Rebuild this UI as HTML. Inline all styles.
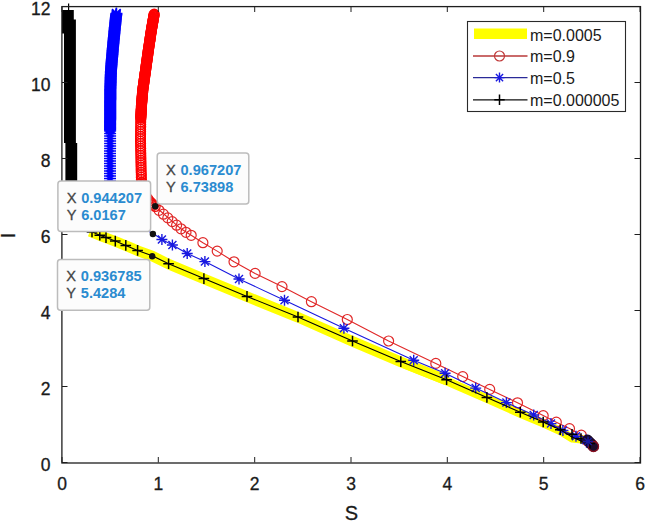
<!DOCTYPE html>
<html><head><meta charset="utf-8"><style>
html,body{margin:0;padding:0;background:#fff;}
svg{display:block;}
text{font-family:"Liberation Sans",sans-serif;}
.tl{font-size:17.5px;fill:#1a1a1a;stroke:#1a1a1a;stroke-width:0.3px;}
.al{font-size:20px;fill:#1a1a1a;stroke:#1a1a1a;stroke-width:0.3px;}
.dl{font-size:14.6px;fill:#444;stroke:#444;stroke-width:0.3px;}
.dv{font-size:14.6px;font-weight:bold;fill:#2a8bd0;}
.lg{font-size:16px;fill:#1a1a1a;}
</style></head><body>
<svg width="646" height="521" viewBox="0 0 646 521">
<rect width="646" height="521" fill="#fff"/>
<defs><clipPath id="cp"><rect x="62.0" y="3.5" width="578.0" height="459.0"/></clipPath></defs>
<g clip-path="url(#cp)">
<polyline points="446.6,380.1 400.8,361.9 352.5,341.3 298.0,317.3 247.0,296.7 203.9,278.9 168.6,264.1 152.2,256.0 137.6,250.7 125.8,245.7 115.3,241.4 106.0,237.9 99.8,235.5 90.0,231.3" fill="none" stroke="#ffff00" stroke-width="10.5" stroke-linejoin="round"/>
<polyline points="584.0,439.5 572.0,438.2 560.3,431.0 543.2,423.2 520.3,413.5 486.9,398.6 446.6,381.0 400.8,362.8" fill="none" stroke="#ffff00" stroke-width="8.5" stroke-linejoin="round"/>
<polyline points="593.5,446.5 581.3,435.2 569.5,428.6 556.3,422.2 543.2,415.6 517.5,402.8 489.7,389.4 462.7,376.6 435.8,363.4 388.6,341.0 347.3,319.5 311.4,301.7 282.0,286.6 255.1,273.4 234.0,261.8 217.2,251.1 202.9,242.7 191.2,235.3 181.0,228.8 155.2,206.5 149.5,201.5 144.5,194.0 141.5,182.0 141.1,170.0 140.5,140.0 140.8,118.0 141.5,105.0 142.8,90.0 145.6,70.0 148.4,50.0 151.4,30.0 154.2,14.0" fill="none" stroke="#e02828" stroke-width="1.1" stroke-linejoin="round"/>
<circle cx="581.3" cy="435.2" r="5.0" fill="none" stroke="#e02828" stroke-width="1.2"/>
<circle cx="569.5" cy="428.6" r="5.0" fill="none" stroke="#e02828" stroke-width="1.2"/>
<circle cx="556.3" cy="422.2" r="5.0" fill="none" stroke="#e02828" stroke-width="1.2"/>
<circle cx="543.2" cy="415.6" r="5.0" fill="none" stroke="#e02828" stroke-width="1.2"/>
<circle cx="517.5" cy="402.8" r="5.0" fill="none" stroke="#e02828" stroke-width="1.2"/>
<circle cx="489.7" cy="389.4" r="5.0" fill="none" stroke="#e02828" stroke-width="1.2"/>
<circle cx="462.7" cy="376.6" r="5.0" fill="none" stroke="#e02828" stroke-width="1.2"/>
<circle cx="435.8" cy="363.4" r="5.0" fill="none" stroke="#e02828" stroke-width="1.2"/>
<circle cx="388.6" cy="341.0" r="5.0" fill="none" stroke="#e02828" stroke-width="1.2"/>
<circle cx="347.3" cy="319.5" r="5.0" fill="none" stroke="#e02828" stroke-width="1.2"/>
<circle cx="311.4" cy="301.7" r="5.0" fill="none" stroke="#e02828" stroke-width="1.2"/>
<circle cx="282.0" cy="286.6" r="5.0" fill="none" stroke="#e02828" stroke-width="1.2"/>
<circle cx="255.1" cy="273.4" r="5.0" fill="none" stroke="#e02828" stroke-width="1.2"/>
<circle cx="234.0" cy="261.8" r="5.0" fill="none" stroke="#e02828" stroke-width="1.2"/>
<circle cx="217.2" cy="251.1" r="5.0" fill="none" stroke="#e02828" stroke-width="1.2"/>
<circle cx="202.9" cy="242.7" r="5.0" fill="none" stroke="#e02828" stroke-width="1.2"/>
<circle cx="191.2" cy="235.3" r="5.0" fill="none" stroke="#e02828" stroke-width="1.2"/>
<circle cx="186.0" cy="232.3" r="5.0" fill="none" stroke="#e02828" stroke-width="1.2"/>
<circle cx="181.0" cy="228.8" r="5.0" fill="none" stroke="#e02828" stroke-width="1.2"/>
<circle cx="176.6" cy="225.2" r="5.0" fill="none" stroke="#e02828" stroke-width="1.2"/>
<circle cx="172.2" cy="221.6" r="5.0" fill="none" stroke="#e02828" stroke-width="1.2"/>
<circle cx="167.8" cy="217.9" r="5.0" fill="none" stroke="#e02828" stroke-width="1.2"/>
<circle cx="163.4" cy="214.2" r="5.0" fill="none" stroke="#e02828" stroke-width="1.2"/>
<circle cx="159.0" cy="210.3" r="5.0" fill="none" stroke="#e02828" stroke-width="1.2"/>
<circle cx="587.0" cy="440.5" r="5.0" fill="none" stroke="#e02828" stroke-width="1.2"/>
<circle cx="590.0" cy="443.0" r="5.0" fill="none" stroke="#e02828" stroke-width="1.2"/>
<circle cx="592.0" cy="444.5" r="5.0" fill="none" stroke="#e02828" stroke-width="1.2"/>
<circle cx="155.2" cy="206.5" r="4.9" fill="none" stroke="#ee1010" stroke-width="1.3"/>
<circle cx="153.7" cy="205.2" r="4.9" fill="none" stroke="#ee1010" stroke-width="1.3"/>
<circle cx="152.2" cy="203.9" r="4.9" fill="none" stroke="#ee1010" stroke-width="1.3"/>
<circle cx="150.7" cy="202.5" r="4.9" fill="none" stroke="#ee1010" stroke-width="1.3"/>
<circle cx="149.3" cy="201.2" r="4.9" fill="none" stroke="#ee1010" stroke-width="1.3"/>
<circle cx="148.2" cy="199.5" r="4.9" fill="none" stroke="#ee1010" stroke-width="1.3"/>
<circle cx="147.0" cy="197.8" r="4.9" fill="none" stroke="#ee1010" stroke-width="1.3"/>
<circle cx="145.9" cy="196.2" r="4.9" fill="none" stroke="#ee1010" stroke-width="1.3"/>
<circle cx="144.8" cy="194.5" r="4.9" fill="none" stroke="#ee1010" stroke-width="1.3"/>
<circle cx="144.2" cy="192.6" r="4.9" fill="none" stroke="#ee1010" stroke-width="1.3"/>
<circle cx="143.7" cy="190.7" r="4.9" fill="none" stroke="#ee1010" stroke-width="1.3"/>
<circle cx="143.2" cy="188.8" r="4.9" fill="none" stroke="#ee1010" stroke-width="1.3"/>
<circle cx="142.7" cy="186.8" r="4.9" fill="none" stroke="#ee1010" stroke-width="1.3"/>
<circle cx="142.2" cy="184.9" r="4.9" fill="none" stroke="#ee1010" stroke-width="1.3"/>
<circle cx="141.7" cy="182.9" r="4.9" fill="none" stroke="#ee1010" stroke-width="1.3"/>
<circle cx="141.5" cy="182.0" r="4.9" fill="none" stroke="#ff0000" stroke-width="1.3"/>
<circle cx="141.4" cy="179.6" r="4.9" fill="none" stroke="#ff0000" stroke-width="1.3"/>
<circle cx="141.3" cy="177.2" r="4.9" fill="none" stroke="#ff0000" stroke-width="1.3"/>
<circle cx="141.3" cy="174.8" r="4.9" fill="none" stroke="#ff0000" stroke-width="1.3"/>
<circle cx="141.2" cy="172.4" r="4.9" fill="none" stroke="#ff0000" stroke-width="1.3"/>
<circle cx="141.1" cy="170.0" r="4.9" fill="none" stroke="#ff0000" stroke-width="1.3"/>
<circle cx="141.1" cy="167.6" r="4.9" fill="none" stroke="#ff0000" stroke-width="1.3"/>
<circle cx="141.0" cy="165.2" r="4.9" fill="none" stroke="#ff0000" stroke-width="1.3"/>
<circle cx="141.0" cy="162.8" r="4.9" fill="none" stroke="#ff0000" stroke-width="1.3"/>
<circle cx="140.9" cy="160.4" r="4.9" fill="none" stroke="#ff0000" stroke-width="1.3"/>
<circle cx="140.9" cy="158.0" r="4.9" fill="none" stroke="#ff0000" stroke-width="1.3"/>
<circle cx="140.8" cy="155.6" r="4.9" fill="none" stroke="#ff0000" stroke-width="1.3"/>
<circle cx="140.8" cy="153.2" r="4.9" fill="none" stroke="#ff0000" stroke-width="1.3"/>
<circle cx="140.7" cy="150.8" r="4.9" fill="none" stroke="#ff0000" stroke-width="1.3"/>
<circle cx="140.7" cy="148.4" r="4.9" fill="none" stroke="#ff0000" stroke-width="1.3"/>
<circle cx="140.6" cy="146.0" r="4.9" fill="none" stroke="#ff0000" stroke-width="1.3"/>
<circle cx="140.6" cy="143.6" r="4.9" fill="none" stroke="#ff0000" stroke-width="1.3"/>
<circle cx="140.5" cy="141.2" r="4.9" fill="none" stroke="#ff0000" stroke-width="1.3"/>
<circle cx="140.5" cy="138.8" r="4.9" fill="none" stroke="#ff0000" stroke-width="1.3"/>
<circle cx="140.5" cy="136.4" r="4.9" fill="none" stroke="#ff0000" stroke-width="1.3"/>
<circle cx="140.6" cy="134.0" r="4.9" fill="none" stroke="#ff0000" stroke-width="1.3"/>
<circle cx="140.6" cy="131.6" r="4.9" fill="none" stroke="#ff0000" stroke-width="1.3"/>
<circle cx="140.6" cy="129.2" r="4.9" fill="none" stroke="#ff0000" stroke-width="1.3"/>
<circle cx="140.7" cy="126.8" r="4.9" fill="none" stroke="#ff0000" stroke-width="1.3"/>
<circle cx="140.7" cy="124.4" r="4.9" fill="none" stroke="#ff0000" stroke-width="1.3"/>
<circle cx="140.7" cy="122.0" r="4.9" fill="none" stroke="#ff0000" stroke-width="1.3"/>
<circle cx="140.8" cy="119.6" r="4.9" fill="none" stroke="#ff0000" stroke-width="1.3"/>
<circle cx="140.8" cy="118.0" r="4.8" fill="none" stroke="#ff0000" stroke-width="1.6"/>
<circle cx="140.8" cy="117.2" r="4.8" fill="none" stroke="#ff0000" stroke-width="1.6"/>
<circle cx="140.9" cy="116.4" r="4.8" fill="none" stroke="#ff0000" stroke-width="1.6"/>
<circle cx="140.9" cy="115.6" r="4.8" fill="none" stroke="#ff0000" stroke-width="1.6"/>
<circle cx="141.0" cy="114.8" r="4.8" fill="none" stroke="#ff0000" stroke-width="1.6"/>
<circle cx="141.0" cy="114.0" r="4.8" fill="none" stroke="#ff0000" stroke-width="1.6"/>
<circle cx="141.1" cy="113.2" r="4.8" fill="none" stroke="#ff0000" stroke-width="1.6"/>
<circle cx="141.1" cy="112.4" r="4.8" fill="none" stroke="#ff0000" stroke-width="1.6"/>
<circle cx="141.1" cy="111.6" r="4.8" fill="none" stroke="#ff0000" stroke-width="1.6"/>
<circle cx="141.2" cy="110.8" r="4.8" fill="none" stroke="#ff0000" stroke-width="1.6"/>
<circle cx="141.2" cy="110.0" r="4.8" fill="none" stroke="#ff0000" stroke-width="1.6"/>
<circle cx="141.3" cy="109.2" r="4.8" fill="none" stroke="#ff0000" stroke-width="1.6"/>
<circle cx="141.3" cy="108.4" r="4.8" fill="none" stroke="#ff0000" stroke-width="1.6"/>
<circle cx="141.4" cy="107.6" r="4.8" fill="none" stroke="#ff0000" stroke-width="1.6"/>
<circle cx="141.4" cy="106.8" r="4.8" fill="none" stroke="#ff0000" stroke-width="1.6"/>
<circle cx="141.4" cy="106.0" r="4.8" fill="none" stroke="#ff0000" stroke-width="1.6"/>
<circle cx="141.5" cy="105.2" r="4.8" fill="none" stroke="#ff0000" stroke-width="1.6"/>
<circle cx="141.6" cy="104.4" r="4.8" fill="none" stroke="#ff0000" stroke-width="1.6"/>
<circle cx="141.6" cy="103.6" r="4.8" fill="none" stroke="#ff0000" stroke-width="1.6"/>
<circle cx="141.7" cy="102.8" r="4.8" fill="none" stroke="#ff0000" stroke-width="1.6"/>
<circle cx="141.8" cy="102.0" r="4.8" fill="none" stroke="#ff0000" stroke-width="1.6"/>
<circle cx="141.8" cy="101.2" r="4.8" fill="none" stroke="#ff0000" stroke-width="1.6"/>
<circle cx="141.9" cy="100.4" r="4.8" fill="none" stroke="#ff0000" stroke-width="1.6"/>
<circle cx="142.0" cy="99.6" r="4.8" fill="none" stroke="#ff0000" stroke-width="1.6"/>
<circle cx="142.0" cy="98.8" r="4.8" fill="none" stroke="#ff0000" stroke-width="1.6"/>
<circle cx="142.1" cy="98.0" r="4.8" fill="none" stroke="#ff0000" stroke-width="1.6"/>
<circle cx="142.2" cy="97.2" r="4.8" fill="none" stroke="#ff0000" stroke-width="1.6"/>
<circle cx="142.2" cy="96.5" r="4.8" fill="none" stroke="#ff0000" stroke-width="1.6"/>
<circle cx="142.3" cy="95.7" r="4.8" fill="none" stroke="#ff0000" stroke-width="1.6"/>
<circle cx="142.4" cy="94.9" r="4.8" fill="none" stroke="#ff0000" stroke-width="1.6"/>
<circle cx="142.4" cy="94.1" r="4.8" fill="none" stroke="#ff0000" stroke-width="1.6"/>
<circle cx="142.5" cy="93.3" r="4.8" fill="none" stroke="#ff0000" stroke-width="1.6"/>
<circle cx="142.6" cy="92.5" r="4.8" fill="none" stroke="#ff0000" stroke-width="1.6"/>
<circle cx="142.7" cy="91.7" r="4.8" fill="none" stroke="#ff0000" stroke-width="1.6"/>
<circle cx="142.7" cy="90.9" r="4.8" fill="none" stroke="#ff0000" stroke-width="1.6"/>
<circle cx="142.8" cy="90.1" r="4.8" fill="none" stroke="#ff0000" stroke-width="1.6"/>
<circle cx="142.9" cy="89.3" r="4.8" fill="none" stroke="#ff0000" stroke-width="1.6"/>
<circle cx="143.0" cy="88.5" r="4.8" fill="none" stroke="#ff0000" stroke-width="1.6"/>
<circle cx="143.1" cy="87.7" r="4.8" fill="none" stroke="#ff0000" stroke-width="1.6"/>
<circle cx="143.2" cy="86.9" r="4.8" fill="none" stroke="#ff0000" stroke-width="1.6"/>
<circle cx="143.3" cy="86.1" r="4.8" fill="none" stroke="#ff0000" stroke-width="1.6"/>
<circle cx="143.5" cy="85.3" r="4.8" fill="none" stroke="#ff0000" stroke-width="1.6"/>
<circle cx="143.6" cy="84.5" r="4.8" fill="none" stroke="#ff0000" stroke-width="1.6"/>
<circle cx="143.7" cy="83.7" r="4.8" fill="none" stroke="#ff0000" stroke-width="1.6"/>
<circle cx="143.8" cy="82.9" r="4.8" fill="none" stroke="#ff0000" stroke-width="1.6"/>
<circle cx="143.9" cy="82.2" r="4.8" fill="none" stroke="#ff0000" stroke-width="1.6"/>
<circle cx="144.0" cy="81.4" r="4.8" fill="none" stroke="#ff0000" stroke-width="1.6"/>
<circle cx="144.1" cy="80.6" r="4.8" fill="none" stroke="#ff0000" stroke-width="1.6"/>
<circle cx="144.2" cy="79.8" r="4.8" fill="none" stroke="#ff0000" stroke-width="1.6"/>
<circle cx="144.3" cy="79.0" r="4.8" fill="none" stroke="#ff0000" stroke-width="1.6"/>
<circle cx="144.5" cy="78.2" r="4.8" fill="none" stroke="#ff0000" stroke-width="1.6"/>
<circle cx="144.6" cy="77.4" r="4.8" fill="none" stroke="#ff0000" stroke-width="1.6"/>
<circle cx="144.7" cy="76.6" r="4.8" fill="none" stroke="#ff0000" stroke-width="1.6"/>
<circle cx="144.8" cy="75.8" r="4.8" fill="none" stroke="#ff0000" stroke-width="1.6"/>
<circle cx="144.9" cy="75.0" r="4.8" fill="none" stroke="#ff0000" stroke-width="1.6"/>
<circle cx="145.0" cy="74.2" r="4.8" fill="none" stroke="#ff0000" stroke-width="1.6"/>
<circle cx="145.1" cy="73.4" r="4.8" fill="none" stroke="#ff0000" stroke-width="1.6"/>
<circle cx="145.2" cy="72.6" r="4.8" fill="none" stroke="#ff0000" stroke-width="1.6"/>
<circle cx="145.3" cy="71.9" r="4.8" fill="none" stroke="#ff0000" stroke-width="1.6"/>
<circle cx="145.5" cy="71.1" r="4.8" fill="none" stroke="#ff0000" stroke-width="1.6"/>
<circle cx="145.6" cy="70.3" r="4.8" fill="none" stroke="#ff0000" stroke-width="1.6"/>
<circle cx="145.7" cy="69.5" r="4.8" fill="none" stroke="#ff0000" stroke-width="1.6"/>
<circle cx="145.8" cy="68.7" r="4.8" fill="none" stroke="#ff0000" stroke-width="1.6"/>
<circle cx="145.9" cy="67.9" r="4.8" fill="none" stroke="#ff0000" stroke-width="1.6"/>
<circle cx="146.0" cy="67.1" r="4.8" fill="none" stroke="#ff0000" stroke-width="1.6"/>
<circle cx="146.1" cy="66.3" r="4.8" fill="none" stroke="#ff0000" stroke-width="1.6"/>
<circle cx="146.2" cy="65.5" r="4.8" fill="none" stroke="#ff0000" stroke-width="1.6"/>
<circle cx="146.3" cy="64.7" r="4.8" fill="none" stroke="#ff0000" stroke-width="1.6"/>
<circle cx="146.4" cy="63.9" r="4.8" fill="none" stroke="#ff0000" stroke-width="1.6"/>
<circle cx="146.6" cy="63.1" r="4.8" fill="none" stroke="#ff0000" stroke-width="1.6"/>
<circle cx="146.7" cy="62.3" r="4.8" fill="none" stroke="#ff0000" stroke-width="1.6"/>
<circle cx="146.8" cy="61.6" r="4.8" fill="none" stroke="#ff0000" stroke-width="1.6"/>
<circle cx="146.9" cy="60.8" r="4.8" fill="none" stroke="#ff0000" stroke-width="1.6"/>
<circle cx="147.0" cy="60.0" r="4.8" fill="none" stroke="#ff0000" stroke-width="1.6"/>
<circle cx="147.1" cy="59.2" r="4.8" fill="none" stroke="#ff0000" stroke-width="1.6"/>
<circle cx="147.2" cy="58.4" r="4.8" fill="none" stroke="#ff0000" stroke-width="1.6"/>
<circle cx="147.3" cy="57.6" r="4.8" fill="none" stroke="#ff0000" stroke-width="1.6"/>
<circle cx="147.4" cy="56.8" r="4.8" fill="none" stroke="#ff0000" stroke-width="1.6"/>
<circle cx="147.6" cy="56.0" r="4.8" fill="none" stroke="#ff0000" stroke-width="1.6"/>
<circle cx="147.7" cy="55.2" r="4.8" fill="none" stroke="#ff0000" stroke-width="1.6"/>
<circle cx="147.8" cy="54.4" r="4.8" fill="none" stroke="#ff0000" stroke-width="1.6"/>
<circle cx="147.9" cy="53.6" r="4.8" fill="none" stroke="#ff0000" stroke-width="1.6"/>
<circle cx="148.0" cy="52.8" r="4.8" fill="none" stroke="#ff0000" stroke-width="1.6"/>
<circle cx="148.1" cy="52.0" r="4.8" fill="none" stroke="#ff0000" stroke-width="1.6"/>
<circle cx="148.2" cy="51.3" r="4.8" fill="none" stroke="#ff0000" stroke-width="1.6"/>
<circle cx="148.3" cy="50.5" r="4.8" fill="none" stroke="#ff0000" stroke-width="1.6"/>
<circle cx="148.4" cy="49.7" r="4.8" fill="none" stroke="#ff0000" stroke-width="1.6"/>
<circle cx="148.6" cy="48.9" r="4.8" fill="none" stroke="#ff0000" stroke-width="1.6"/>
<circle cx="148.7" cy="48.1" r="4.8" fill="none" stroke="#ff0000" stroke-width="1.6"/>
<circle cx="148.8" cy="47.3" r="4.8" fill="none" stroke="#ff0000" stroke-width="1.6"/>
<circle cx="148.9" cy="46.5" r="4.8" fill="none" stroke="#ff0000" stroke-width="1.6"/>
<circle cx="149.0" cy="45.7" r="4.8" fill="none" stroke="#ff0000" stroke-width="1.6"/>
<circle cx="149.2" cy="44.9" r="4.8" fill="none" stroke="#ff0000" stroke-width="1.6"/>
<circle cx="149.3" cy="44.1" r="4.8" fill="none" stroke="#ff0000" stroke-width="1.6"/>
<circle cx="149.4" cy="43.3" r="4.8" fill="none" stroke="#ff0000" stroke-width="1.6"/>
<circle cx="149.5" cy="42.5" r="4.8" fill="none" stroke="#ff0000" stroke-width="1.6"/>
<circle cx="149.6" cy="41.8" r="4.8" fill="none" stroke="#ff0000" stroke-width="1.6"/>
<circle cx="149.8" cy="41.0" r="4.8" fill="none" stroke="#ff0000" stroke-width="1.6"/>
<circle cx="149.9" cy="40.2" r="4.8" fill="none" stroke="#ff0000" stroke-width="1.6"/>
<circle cx="150.0" cy="39.4" r="4.8" fill="none" stroke="#ff0000" stroke-width="1.6"/>
<circle cx="150.1" cy="38.6" r="4.8" fill="none" stroke="#ff0000" stroke-width="1.6"/>
<circle cx="150.2" cy="37.8" r="4.8" fill="none" stroke="#ff0000" stroke-width="1.6"/>
<circle cx="150.3" cy="37.0" r="4.8" fill="none" stroke="#ff0000" stroke-width="1.6"/>
<circle cx="150.5" cy="36.2" r="4.8" fill="none" stroke="#ff0000" stroke-width="1.6"/>
<circle cx="150.6" cy="35.4" r="4.8" fill="none" stroke="#ff0000" stroke-width="1.6"/>
<circle cx="150.7" cy="34.6" r="4.8" fill="none" stroke="#ff0000" stroke-width="1.6"/>
<circle cx="150.8" cy="33.8" r="4.8" fill="none" stroke="#ff0000" stroke-width="1.6"/>
<circle cx="150.9" cy="33.1" r="4.8" fill="none" stroke="#ff0000" stroke-width="1.6"/>
<circle cx="151.1" cy="32.3" r="4.8" fill="none" stroke="#ff0000" stroke-width="1.6"/>
<circle cx="151.2" cy="31.5" r="4.8" fill="none" stroke="#ff0000" stroke-width="1.6"/>
<circle cx="151.3" cy="30.7" r="4.8" fill="none" stroke="#ff0000" stroke-width="1.6"/>
<circle cx="151.4" cy="29.9" r="4.8" fill="none" stroke="#ff0000" stroke-width="1.6"/>
<circle cx="151.6" cy="29.1" r="4.8" fill="none" stroke="#ff0000" stroke-width="1.6"/>
<circle cx="151.7" cy="28.3" r="4.8" fill="none" stroke="#ff0000" stroke-width="1.6"/>
<circle cx="151.8" cy="27.5" r="4.8" fill="none" stroke="#ff0000" stroke-width="1.6"/>
<circle cx="152.0" cy="26.7" r="4.8" fill="none" stroke="#ff0000" stroke-width="1.6"/>
<circle cx="152.1" cy="26.0" r="4.8" fill="none" stroke="#ff0000" stroke-width="1.6"/>
<circle cx="152.2" cy="25.2" r="4.8" fill="none" stroke="#ff0000" stroke-width="1.6"/>
<circle cx="152.4" cy="24.4" r="4.8" fill="none" stroke="#ff0000" stroke-width="1.6"/>
<circle cx="152.5" cy="23.6" r="4.8" fill="none" stroke="#ff0000" stroke-width="1.6"/>
<circle cx="152.7" cy="22.8" r="4.8" fill="none" stroke="#ff0000" stroke-width="1.6"/>
<circle cx="152.8" cy="22.0" r="4.8" fill="none" stroke="#ff0000" stroke-width="1.6"/>
<circle cx="152.9" cy="21.2" r="4.8" fill="none" stroke="#ff0000" stroke-width="1.6"/>
<circle cx="153.1" cy="20.4" r="4.8" fill="none" stroke="#ff0000" stroke-width="1.6"/>
<circle cx="153.2" cy="19.6" r="4.8" fill="none" stroke="#ff0000" stroke-width="1.6"/>
<circle cx="153.3" cy="18.9" r="4.8" fill="none" stroke="#ff0000" stroke-width="1.6"/>
<circle cx="153.5" cy="18.1" r="4.8" fill="none" stroke="#ff0000" stroke-width="1.6"/>
<circle cx="153.6" cy="17.3" r="4.8" fill="none" stroke="#ff0000" stroke-width="1.6"/>
<circle cx="153.8" cy="16.5" r="4.8" fill="none" stroke="#ff0000" stroke-width="1.6"/>
<circle cx="153.9" cy="15.7" r="4.8" fill="none" stroke="#ff0000" stroke-width="1.6"/>
<circle cx="154.0" cy="14.9" r="4.8" fill="none" stroke="#ff0000" stroke-width="1.6"/>
<circle cx="154.2" cy="14.1" r="4.8" fill="none" stroke="#ff0000" stroke-width="1.6"/>
<polyline points="593.5,446.5 576.0,436.2 562.9,430.4 551.0,423.6 533.7,415.0 506.4,402.6 475.7,388.1 445.1,373.2 413.7,360.3 343.9,328.2 284.5,300.2 239.0,279.0 204.9,261.6 187.2,253.5 172.4,245.0 161.9,239.5 153.0,233.4 130.0,222.0 112.0,212.0 110.0,195.0 110.0,181.0 110.0,170.0 110.1,130.0 110.3,90.0 111.0,70.0 112.7,50.0 114.6,30.0 116.4,13.0" fill="none" stroke="#1818e0" stroke-width="1.1" stroke-linejoin="round"/>
<path d="M570.5 436.2H581.5M576.0 430.7V441.7M572.0 432.2L580.0 440.2M572.0 440.2L580.0 432.2" stroke="#1818e0" stroke-width="1.4"/>
<path d="M557.4 430.4H568.4M562.9 424.9V435.9M558.9 426.4L566.9 434.4M558.9 434.4L566.9 426.4" stroke="#1818e0" stroke-width="1.4"/>
<path d="M545.5 423.6H556.5M551.0 418.1V429.1M547.0 419.6L555.0 427.6M547.0 427.6L555.0 419.6" stroke="#1818e0" stroke-width="1.4"/>
<path d="M528.2 415.0H539.2M533.7 409.5V420.5M529.7 411.0L537.7 419.0M529.7 419.0L537.7 411.0" stroke="#1818e0" stroke-width="1.4"/>
<path d="M500.9 402.6H511.9M506.4 397.1V408.1M502.4 398.6L510.4 406.6M502.4 406.6L510.4 398.6" stroke="#1818e0" stroke-width="1.4"/>
<path d="M470.2 388.1H481.2M475.7 382.6V393.6M471.7 384.1L479.7 392.1M471.7 392.1L479.7 384.1" stroke="#1818e0" stroke-width="1.4"/>
<path d="M439.6 373.2H450.6M445.1 367.7V378.7M441.1 369.2L449.1 377.2M441.1 377.2L449.1 369.2" stroke="#1818e0" stroke-width="1.4"/>
<path d="M408.2 360.3H419.2M413.7 354.8V365.8M409.7 356.3L417.7 364.3M409.7 364.3L417.7 356.3" stroke="#1818e0" stroke-width="1.4"/>
<path d="M338.4 328.2H349.4M343.9 322.7V333.7M339.9 324.2L347.9 332.2M339.9 332.2L347.9 324.2" stroke="#1818e0" stroke-width="1.4"/>
<path d="M279.0 300.2H290.0M284.5 294.7V305.7M280.5 296.2L288.5 304.2M280.5 304.2L288.5 296.2" stroke="#1818e0" stroke-width="1.4"/>
<path d="M233.5 279.0H244.5M239.0 273.5V284.5M235.0 275.0L243.0 283.0M235.0 283.0L243.0 275.0" stroke="#1818e0" stroke-width="1.4"/>
<path d="M199.4 261.6H210.4M204.9 256.1V267.1M200.9 257.6L208.9 265.6M200.9 265.6L208.9 257.6" stroke="#1818e0" stroke-width="1.4"/>
<path d="M181.7 253.5H192.7M187.2 248.0V259.0M183.2 249.5L191.2 257.5M183.2 257.5L191.2 249.5" stroke="#1818e0" stroke-width="1.4"/>
<path d="M166.9 245.0H177.9M172.4 239.5V250.5M168.4 241.0L176.4 249.0M168.4 249.0L176.4 241.0" stroke="#1818e0" stroke-width="1.4"/>
<path d="M156.4 239.5H167.4M161.9 234.0V245.0M157.9 235.5L165.9 243.5M157.9 243.5L165.9 235.5" stroke="#1818e0" stroke-width="1.4"/>
<path d="M580.5 440.0H591.5M586.0 434.5V445.5M582.0 436.0L590.0 444.0M582.0 444.0L590.0 436.0" stroke="#1818e0" stroke-width="1.4"/>
<path d="M584.5 443.5H595.5M590.0 438.0V449.0M586.0 439.5L594.0 447.5M586.0 447.5L594.0 439.5" stroke="#1818e0" stroke-width="1.4"/>
<path d="M104.0 181.0H116.0M110.0 175.0V187.0M106.7 177.7L113.3 184.3M106.7 184.3L113.3 177.7" stroke="#0000ff" stroke-width="1.4"/>
<path d="M104.0 178.5H116.0M110.0 172.5V184.5M106.7 175.2L113.3 181.8M106.7 181.8L113.3 175.2" stroke="#0000ff" stroke-width="1.4"/>
<path d="M104.0 176.0H116.0M110.0 170.0V182.0M106.7 172.7L113.3 179.3M106.7 179.3L113.3 172.7" stroke="#0000ff" stroke-width="1.4"/>
<path d="M104.0 173.5H116.0M110.0 167.5V179.5M106.7 170.2L113.3 176.8M106.7 176.8L113.3 170.2" stroke="#0000ff" stroke-width="1.4"/>
<path d="M104.0 171.0H116.0M110.0 165.0V177.0M106.7 167.7L113.3 174.3M106.7 174.3L113.3 167.7" stroke="#0000ff" stroke-width="1.4"/>
<path d="M104.0 168.5H116.0M110.0 162.5V174.5M106.7 165.2L113.3 171.8M106.7 171.8L113.3 165.2" stroke="#0000ff" stroke-width="1.4"/>
<path d="M104.0 166.0H116.0M110.0 160.0V172.0M106.7 162.7L113.3 169.3M106.7 169.3L113.3 162.7" stroke="#0000ff" stroke-width="1.4"/>
<path d="M104.0 163.5H116.0M110.0 157.5V169.5M106.7 160.2L113.3 166.8M106.7 166.8L113.3 160.2" stroke="#0000ff" stroke-width="1.4"/>
<path d="M104.0 161.0H116.0M110.0 155.0V167.0M106.7 157.7L113.3 164.3M106.7 164.3L113.3 157.7" stroke="#0000ff" stroke-width="1.4"/>
<path d="M104.0 158.5H116.0M110.0 152.5V164.5M106.7 155.2L113.3 161.8M106.7 161.8L113.3 155.2" stroke="#0000ff" stroke-width="1.4"/>
<path d="M104.0 156.0H116.0M110.0 150.0V162.0M106.7 152.7L113.3 159.3M106.7 159.3L113.3 152.7" stroke="#0000ff" stroke-width="1.4"/>
<path d="M104.0 153.5H116.0M110.0 147.5V159.5M106.7 150.2L113.3 156.8M106.7 156.8L113.3 150.2" stroke="#0000ff" stroke-width="1.4"/>
<path d="M104.0 151.0H116.0M110.0 145.0V157.0M106.7 147.7L113.3 154.3M106.7 154.3L113.3 147.7" stroke="#0000ff" stroke-width="1.4"/>
<path d="M104.1 148.5H116.1M110.1 142.5V154.5M106.8 145.2L113.4 151.8M106.8 151.8L113.4 145.2" stroke="#0000ff" stroke-width="1.4"/>
<path d="M104.1 146.0H116.1M110.1 140.0V152.0M106.8 142.7L113.4 149.3M106.8 149.3L113.4 142.7" stroke="#0000ff" stroke-width="1.4"/>
<path d="M104.1 143.5H116.1M110.1 137.5V149.5M106.8 140.2L113.4 146.8M106.8 146.8L113.4 140.2" stroke="#0000ff" stroke-width="1.4"/>
<path d="M104.1 141.0H116.1M110.1 135.0V147.0M106.8 137.7L113.4 144.3M106.8 144.3L113.4 137.7" stroke="#0000ff" stroke-width="1.4"/>
<path d="M104.1 138.5H116.1M110.1 132.5V144.5M106.8 135.2L113.4 141.8M106.8 141.8L113.4 135.2" stroke="#0000ff" stroke-width="1.4"/>
<path d="M104.1 136.0H116.1M110.1 130.0V142.0M106.8 132.7L113.4 139.3M106.8 139.3L113.4 132.7" stroke="#0000ff" stroke-width="1.4"/>
<path d="M104.1 133.5H116.1M110.1 127.5V139.5M106.8 130.2L113.4 136.8M106.8 136.8L113.4 130.2" stroke="#0000ff" stroke-width="1.4"/>
<path d="M104.1 131.0H116.1M110.1 125.0V137.0M106.8 127.7L113.4 134.3M106.8 134.3L113.4 127.7" stroke="#0000ff" stroke-width="1.4"/>
<path d="M104.1 130.0H116.1M110.1 124.0V136.0M105.8 125.7L114.4 134.3M105.8 134.3L114.4 125.7" stroke="#0000ff" stroke-width="1.6"/>
<path d="M104.1 129.2H116.1M110.1 123.2V135.2M105.8 124.9L114.4 133.5M105.8 133.5L114.4 124.9" stroke="#0000ff" stroke-width="1.6"/>
<path d="M104.1 128.4H116.1M110.1 122.4V134.4M105.8 124.1L114.4 132.7M105.8 132.7L114.4 124.1" stroke="#0000ff" stroke-width="1.6"/>
<path d="M104.1 127.6H116.1M110.1 121.6V133.6M105.8 123.3L114.4 131.9M105.8 131.9L114.4 123.3" stroke="#0000ff" stroke-width="1.6"/>
<path d="M104.1 126.8H116.1M110.1 120.8V132.8M105.8 122.5L114.4 131.1M105.8 131.1L114.4 122.5" stroke="#0000ff" stroke-width="1.6"/>
<path d="M104.1 126.0H116.1M110.1 120.0V132.0M105.8 121.7L114.4 130.3M105.8 130.3L114.4 121.7" stroke="#0000ff" stroke-width="1.6"/>
<path d="M104.1 125.2H116.1M110.1 119.2V131.2M105.8 120.9L114.4 129.5M105.8 129.5L114.4 120.9" stroke="#0000ff" stroke-width="1.6"/>
<path d="M104.1 124.4H116.1M110.1 118.4V130.4M105.8 120.1L114.4 128.7M105.8 128.7L114.4 120.1" stroke="#0000ff" stroke-width="1.6"/>
<path d="M104.1 123.6H116.1M110.1 117.6V129.6M105.8 119.3L114.5 127.9M105.8 127.9L114.5 119.3" stroke="#0000ff" stroke-width="1.6"/>
<path d="M104.1 122.8H116.1M110.1 116.8V128.8M105.8 118.5L114.5 127.1M105.8 127.1L114.5 118.5" stroke="#0000ff" stroke-width="1.6"/>
<path d="M104.1 122.0H116.1M110.1 116.0V128.0M105.8 117.7L114.5 126.3M105.8 126.3L114.5 117.7" stroke="#0000ff" stroke-width="1.6"/>
<path d="M104.1 121.2H116.1M110.1 115.2V127.2M105.8 116.9L114.5 125.5M105.8 125.5L114.5 116.9" stroke="#0000ff" stroke-width="1.6"/>
<path d="M104.1 120.4H116.1M110.1 114.4V126.4M105.8 116.1L114.5 124.7M105.8 124.7L114.5 116.1" stroke="#0000ff" stroke-width="1.6"/>
<path d="M104.2 119.6H116.2M110.2 113.6V125.6M105.8 115.3L114.5 123.9M105.8 123.9L114.5 115.3" stroke="#0000ff" stroke-width="1.6"/>
<path d="M104.2 118.8H116.2M110.2 112.8V124.8M105.8 114.5L114.5 123.1M105.8 123.1L114.5 114.5" stroke="#0000ff" stroke-width="1.6"/>
<path d="M104.2 118.0H116.2M110.2 112.0V124.0M105.8 113.7L114.5 122.3M105.8 122.3L114.5 113.7" stroke="#0000ff" stroke-width="1.6"/>
<path d="M104.2 117.2H116.2M110.2 111.2V123.2M105.8 112.9L114.5 121.5M105.8 121.5L114.5 112.9" stroke="#0000ff" stroke-width="1.6"/>
<path d="M104.2 116.4H116.2M110.2 110.4V122.4M105.8 112.1L114.5 120.7M105.8 120.7L114.5 112.1" stroke="#0000ff" stroke-width="1.6"/>
<path d="M104.2 115.6H116.2M110.2 109.6V121.6M105.9 111.3L114.5 119.9M105.9 119.9L114.5 111.3" stroke="#0000ff" stroke-width="1.6"/>
<path d="M104.2 114.8H116.2M110.2 108.8V120.8M105.9 110.5L114.5 119.1M105.9 119.1L114.5 110.5" stroke="#0000ff" stroke-width="1.6"/>
<path d="M104.2 114.0H116.2M110.2 108.0V120.0M105.9 109.7L114.5 118.3M105.9 118.3L114.5 109.7" stroke="#0000ff" stroke-width="1.6"/>
<path d="M104.2 113.2H116.2M110.2 107.2V119.2M105.9 108.9L114.5 117.5M105.9 117.5L114.5 108.9" stroke="#0000ff" stroke-width="1.6"/>
<path d="M104.2 112.4H116.2M110.2 106.4V118.4M105.9 108.1L114.5 116.7M105.9 116.7L114.5 108.1" stroke="#0000ff" stroke-width="1.6"/>
<path d="M104.2 111.6H116.2M110.2 105.6V117.6M105.9 107.3L114.5 115.9M105.9 115.9L114.5 107.3" stroke="#0000ff" stroke-width="1.6"/>
<path d="M104.2 110.8H116.2M110.2 104.8V116.8M105.9 106.5L114.5 115.1M105.9 115.1L114.5 106.5" stroke="#0000ff" stroke-width="1.6"/>
<path d="M104.2 110.0H116.2M110.2 104.0V116.0M105.9 105.7L114.5 114.3M105.9 114.3L114.5 105.7" stroke="#0000ff" stroke-width="1.6"/>
<path d="M104.2 109.2H116.2M110.2 103.2V115.2M105.9 104.9L114.5 113.5M105.9 113.5L114.5 104.9" stroke="#0000ff" stroke-width="1.6"/>
<path d="M104.2 108.4H116.2M110.2 102.4V114.4M105.9 104.1L114.5 112.7M105.9 112.7L114.5 104.1" stroke="#0000ff" stroke-width="1.6"/>
<path d="M104.2 107.6H116.2M110.2 101.6V113.6M105.9 103.3L114.5 111.9M105.9 111.9L114.5 103.3" stroke="#0000ff" stroke-width="1.6"/>
<path d="M104.2 106.8H116.2M110.2 100.8V112.8M105.9 102.5L114.5 111.1M105.9 111.1L114.5 102.5" stroke="#0000ff" stroke-width="1.6"/>
<path d="M104.2 106.0H116.2M110.2 100.0V112.0M105.9 101.7L114.5 110.3M105.9 110.3L114.5 101.7" stroke="#0000ff" stroke-width="1.6"/>
<path d="M104.2 105.2H116.2M110.2 99.2V111.2M105.9 100.9L114.5 109.5M105.9 109.5L114.5 100.9" stroke="#0000ff" stroke-width="1.6"/>
<path d="M104.2 104.4H116.2M110.2 98.4V110.4M105.9 100.1L114.5 108.7M105.9 108.7L114.5 100.1" stroke="#0000ff" stroke-width="1.6"/>
<path d="M104.2 103.6H116.2M110.2 97.6V109.6M105.9 99.3L114.6 107.9M105.9 107.9L114.6 99.3" stroke="#0000ff" stroke-width="1.6"/>
<path d="M104.2 102.8H116.2M110.2 96.8V108.8M105.9 98.5L114.6 107.1M105.9 107.1L114.6 98.5" stroke="#0000ff" stroke-width="1.6"/>
<path d="M104.2 102.0H116.2M110.2 96.0V108.0M105.9 97.7L114.6 106.3M105.9 106.3L114.6 97.7" stroke="#0000ff" stroke-width="1.6"/>
<path d="M104.2 101.2H116.2M110.2 95.2V107.2M105.9 96.9L114.6 105.5M105.9 105.5L114.6 96.9" stroke="#0000ff" stroke-width="1.6"/>
<path d="M104.2 100.4H116.2M110.2 94.4V106.4M105.9 96.1L114.6 104.7M105.9 104.7L114.6 96.1" stroke="#0000ff" stroke-width="1.6"/>
<path d="M104.3 99.6H116.3M110.3 93.6V105.6M105.9 95.3L114.6 103.9M105.9 103.9L114.6 95.3" stroke="#0000ff" stroke-width="1.6"/>
<path d="M104.3 98.8H116.3M110.3 92.8V104.8M105.9 94.5L114.6 103.1M105.9 103.1L114.6 94.5" stroke="#0000ff" stroke-width="1.6"/>
<path d="M104.3 98.0H116.3M110.3 92.0V104.0M105.9 93.7L114.6 102.3M105.9 102.3L114.6 93.7" stroke="#0000ff" stroke-width="1.6"/>
<path d="M104.3 97.2H116.3M110.3 91.2V103.2M105.9 92.9L114.6 101.5M105.9 101.5L114.6 92.9" stroke="#0000ff" stroke-width="1.6"/>
<path d="M104.3 96.4H116.3M110.3 90.4V102.4M105.9 92.1L114.6 100.7M105.9 100.7L114.6 92.1" stroke="#0000ff" stroke-width="1.6"/>
<path d="M104.3 95.6H116.3M110.3 89.6V101.6M106.0 91.3L114.6 99.9M106.0 99.9L114.6 91.3" stroke="#0000ff" stroke-width="1.6"/>
<path d="M104.3 94.8H116.3M110.3 88.8V100.8M106.0 90.5L114.6 99.1M106.0 99.1L114.6 90.5" stroke="#0000ff" stroke-width="1.6"/>
<path d="M104.3 94.0H116.3M110.3 88.0V100.0M106.0 89.7L114.6 98.3M106.0 98.3L114.6 89.7" stroke="#0000ff" stroke-width="1.6"/>
<path d="M104.3 93.2H116.3M110.3 87.2V99.2M106.0 88.9L114.6 97.5M106.0 97.5L114.6 88.9" stroke="#0000ff" stroke-width="1.6"/>
<path d="M104.3 92.4H116.3M110.3 86.4V98.4M106.0 88.1L114.6 96.7M106.0 96.7L114.6 88.1" stroke="#0000ff" stroke-width="1.6"/>
<path d="M104.3 91.6H116.3M110.3 85.6V97.6M106.0 87.3L114.6 95.9M106.0 95.9L114.6 87.3" stroke="#0000ff" stroke-width="1.6"/>
<path d="M104.3 90.8H116.3M110.3 84.8V96.8M106.0 86.5L114.6 95.1M106.0 95.1L114.6 86.5" stroke="#0000ff" stroke-width="1.6"/>
<path d="M104.3 90.0H116.3M110.3 84.0V96.0M106.0 85.7L114.6 94.3M106.0 94.3L114.6 85.7" stroke="#0000ff" stroke-width="1.6"/>
<path d="M104.3 89.2H116.3M110.3 83.2V95.2M106.0 84.9L114.6 93.5M106.0 93.5L114.6 84.9" stroke="#0000ff" stroke-width="1.6"/>
<path d="M104.4 88.4H116.4M110.4 82.4V94.4M106.0 84.1L114.7 92.7M106.0 92.7L114.7 84.1" stroke="#0000ff" stroke-width="1.6"/>
<path d="M104.4 87.6H116.4M110.4 81.6V93.6M106.1 83.3L114.7 91.9M106.1 91.9L114.7 83.3" stroke="#0000ff" stroke-width="1.6"/>
<path d="M104.4 86.8H116.4M110.4 80.8V92.8M106.1 82.5L114.7 91.1M106.1 91.1L114.7 82.5" stroke="#0000ff" stroke-width="1.6"/>
<path d="M104.4 86.0H116.4M110.4 80.0V92.0M106.1 81.7L114.8 90.3M106.1 90.3L114.8 81.7" stroke="#0000ff" stroke-width="1.6"/>
<path d="M104.5 85.2H116.5M110.5 79.2V91.2M106.1 80.9L114.8 89.5M106.1 89.5L114.8 80.9" stroke="#0000ff" stroke-width="1.6"/>
<path d="M104.5 84.4H116.5M110.5 78.4V90.4M106.2 80.1L114.8 88.7M106.2 88.7L114.8 80.1" stroke="#0000ff" stroke-width="1.6"/>
<path d="M104.5 83.6H116.5M110.5 77.6V89.6M106.2 79.3L114.8 87.9M106.2 87.9L114.8 79.3" stroke="#0000ff" stroke-width="1.6"/>
<path d="M104.6 82.8H116.6M110.6 76.8V88.8M106.2 78.5L114.9 87.1M106.2 87.1L114.9 78.5" stroke="#0000ff" stroke-width="1.6"/>
<path d="M104.6 82.0H116.6M110.6 76.0V88.0M106.3 77.7L114.9 86.3M106.3 86.3L114.9 77.7" stroke="#0000ff" stroke-width="1.6"/>
<path d="M104.6 81.2H116.6M110.6 75.2V87.2M106.3 76.9L114.9 85.5M106.3 85.5L114.9 76.9" stroke="#0000ff" stroke-width="1.6"/>
<path d="M104.6 80.4H116.6M110.6 74.4V86.4M106.3 76.1L115.0 84.7M106.3 84.7L115.0 76.1" stroke="#0000ff" stroke-width="1.6"/>
<path d="M104.7 79.6H116.7M110.7 73.6V85.6M106.3 75.3L115.0 83.9M106.3 83.9L115.0 75.3" stroke="#0000ff" stroke-width="1.6"/>
<path d="M104.7 78.8H116.7M110.7 72.8V84.8M106.4 74.5L115.0 83.1M106.4 83.1L115.0 74.5" stroke="#0000ff" stroke-width="1.6"/>
<path d="M104.7 78.0H116.7M110.7 72.0V84.0M106.4 73.7L115.0 82.3M106.4 82.3L115.0 73.7" stroke="#0000ff" stroke-width="1.6"/>
<path d="M104.7 77.2H116.7M110.7 71.2V83.2M106.4 72.9L115.1 81.5M106.4 81.5L115.1 72.9" stroke="#0000ff" stroke-width="1.6"/>
<path d="M104.8 76.4H116.8M110.8 70.4V82.4M106.5 72.1L115.1 80.7M106.5 80.7L115.1 72.1" stroke="#0000ff" stroke-width="1.6"/>
<path d="M104.8 75.6H116.8M110.8 69.6V81.6M106.5 71.3L115.1 79.9M106.5 79.9L115.1 71.3" stroke="#0000ff" stroke-width="1.6"/>
<path d="M104.8 74.8H116.8M110.8 68.8V80.8M106.5 70.5L115.2 79.1M106.5 79.1L115.2 70.5" stroke="#0000ff" stroke-width="1.6"/>
<path d="M104.9 74.0H116.9M110.9 68.0V80.0M106.5 69.7L115.2 78.3M106.5 78.3L115.2 69.7" stroke="#0000ff" stroke-width="1.6"/>
<path d="M104.9 73.2H116.9M110.9 67.2V79.2M106.6 68.9L115.2 77.5M106.6 77.5L115.2 68.9" stroke="#0000ff" stroke-width="1.6"/>
<path d="M104.9 72.4H116.9M110.9 66.4V78.4M106.6 68.1L115.2 76.7M106.6 76.7L115.2 68.1" stroke="#0000ff" stroke-width="1.6"/>
<path d="M104.9 71.6H116.9M110.9 65.6V77.6M106.6 67.3L115.3 75.9M106.6 75.9L115.3 67.3" stroke="#0000ff" stroke-width="1.6"/>
<path d="M105.0 70.8H117.0M111.0 64.8V76.8M106.7 66.5L115.3 75.1M106.7 75.1L115.3 66.5" stroke="#0000ff" stroke-width="1.6"/>
<path d="M105.0 70.0H117.0M111.0 64.0V76.0M106.7 65.7L115.3 74.3M106.7 74.3L115.3 65.7" stroke="#0000ff" stroke-width="1.6"/>
<path d="M105.1 69.2H117.1M111.1 63.2V75.2M106.7 64.9L115.4 73.5M106.7 73.5L115.4 64.9" stroke="#0000ff" stroke-width="1.6"/>
<path d="M105.1 68.4H117.1M111.1 62.4V74.4M106.8 64.1L115.5 72.7M106.8 72.7L115.5 64.1" stroke="#0000ff" stroke-width="1.6"/>
<path d="M105.2 67.6H117.2M111.2 61.6V73.6M106.9 63.3L115.5 71.9M106.9 71.9L115.5 63.3" stroke="#0000ff" stroke-width="1.6"/>
<path d="M105.3 66.8H117.3M111.3 60.8V72.8M106.9 62.5L115.6 71.1M106.9 71.1L115.6 62.5" stroke="#0000ff" stroke-width="1.6"/>
<path d="M105.3 66.0H117.3M111.3 60.0V72.0M107.0 61.7L115.7 70.3M107.0 70.3L115.7 61.7" stroke="#0000ff" stroke-width="1.6"/>
<path d="M105.4 65.2H117.4M111.4 59.2V71.2M107.1 60.9L115.7 69.5M107.1 69.5L115.7 60.9" stroke="#0000ff" stroke-width="1.6"/>
<path d="M105.5 64.4H117.5M111.5 58.4V70.4M107.2 60.1L115.8 68.8M107.2 68.8L115.8 60.1" stroke="#0000ff" stroke-width="1.6"/>
<path d="M105.5 63.6H117.5M111.5 57.6V69.6M107.2 59.3L115.9 68.0M107.2 68.0L115.9 59.3" stroke="#0000ff" stroke-width="1.6"/>
<path d="M105.6 62.8H117.6M111.6 56.8V68.8M107.3 58.5L115.9 67.2M107.3 67.2L115.9 58.5" stroke="#0000ff" stroke-width="1.6"/>
<path d="M105.7 62.0H117.7M111.7 56.0V68.0M107.4 57.7L116.0 66.4M107.4 66.4L116.0 57.7" stroke="#0000ff" stroke-width="1.6"/>
<path d="M105.7 61.2H117.7M111.7 55.2V67.2M107.4 56.9L116.1 65.6M107.4 65.6L116.1 56.9" stroke="#0000ff" stroke-width="1.6"/>
<path d="M105.8 60.4H117.8M111.8 54.4V66.4M107.5 56.1L116.1 64.8M107.5 64.8L116.1 56.1" stroke="#0000ff" stroke-width="1.6"/>
<path d="M105.9 59.7H117.9M111.9 53.7V65.7M107.6 55.3L116.2 64.0M107.6 64.0L116.2 55.3" stroke="#0000ff" stroke-width="1.6"/>
<path d="M105.9 58.9H117.9M111.9 52.9V64.9M107.6 54.5L116.3 63.2M107.6 63.2L116.3 54.5" stroke="#0000ff" stroke-width="1.6"/>
<path d="M106.0 58.1H118.0M112.0 52.1V64.1M107.7 53.7L116.3 62.4M107.7 62.4L116.3 53.7" stroke="#0000ff" stroke-width="1.6"/>
<path d="M106.1 57.3H118.1M112.1 51.3V63.3M107.8 52.9L116.4 61.6M107.8 61.6L116.4 52.9" stroke="#0000ff" stroke-width="1.6"/>
<path d="M106.2 56.5H118.2M112.2 50.5V62.5M107.8 52.1L116.5 60.8M107.8 60.8L116.5 52.1" stroke="#0000ff" stroke-width="1.6"/>
<path d="M106.2 55.7H118.2M112.2 49.7V61.7M107.9 51.3L116.5 60.0M107.9 60.0L116.5 51.3" stroke="#0000ff" stroke-width="1.6"/>
<path d="M106.3 54.9H118.3M112.3 48.9V60.9M108.0 50.5L116.6 59.2M108.0 59.2L116.6 50.5" stroke="#0000ff" stroke-width="1.6"/>
<path d="M106.4 54.1H118.4M112.4 48.1V60.1M108.0 49.8L116.7 58.4M108.0 58.4L116.7 49.8" stroke="#0000ff" stroke-width="1.6"/>
<path d="M106.4 53.3H118.4M112.4 47.3V59.3M108.1 49.0L116.7 57.6M108.1 57.6L116.7 49.0" stroke="#0000ff" stroke-width="1.6"/>
<path d="M106.5 52.5H118.5M112.5 46.5V58.5M108.2 48.2L116.8 56.8M108.2 56.8L116.8 48.2" stroke="#0000ff" stroke-width="1.6"/>
<path d="M106.6 51.7H118.6M112.6 45.7V57.7M108.2 47.4L116.9 56.0M108.2 56.0L116.9 47.4" stroke="#0000ff" stroke-width="1.6"/>
<path d="M106.6 50.9H118.6M112.6 44.9V56.9M108.3 46.6L116.9 55.2M108.3 55.2L116.9 46.6" stroke="#0000ff" stroke-width="1.6"/>
<path d="M106.7 50.1H118.7M112.7 44.1V56.1M108.4 45.8L117.0 54.4M108.4 54.4L117.0 45.8" stroke="#0000ff" stroke-width="1.6"/>
<path d="M106.8 49.3H118.8M112.8 43.3V55.3M108.4 45.0L117.1 53.6M108.4 53.6L117.1 45.0" stroke="#0000ff" stroke-width="1.6"/>
<path d="M106.8 48.5H118.8M112.8 42.5V54.5M108.5 44.2L117.2 52.8M108.5 52.8L117.2 44.2" stroke="#0000ff" stroke-width="1.6"/>
<path d="M106.9 47.7H118.9M112.9 41.7V53.7M108.6 43.4L117.2 52.0M108.6 52.0L117.2 43.4" stroke="#0000ff" stroke-width="1.6"/>
<path d="M107.0 46.9H119.0M113.0 40.9V52.9M108.7 42.6L117.3 51.2M108.7 51.2L117.3 42.6" stroke="#0000ff" stroke-width="1.6"/>
<path d="M107.1 46.1H119.1M113.1 40.1V52.1M108.8 41.8L117.4 50.4M108.8 50.4L117.4 41.8" stroke="#0000ff" stroke-width="1.6"/>
<path d="M107.1 45.3H119.1M113.1 39.3V51.3M108.8 41.0L117.5 49.6M108.8 49.6L117.5 41.0" stroke="#0000ff" stroke-width="1.6"/>
<path d="M107.2 44.5H119.2M113.2 38.5V50.5M108.9 40.2L117.5 48.8M108.9 48.8L117.5 40.2" stroke="#0000ff" stroke-width="1.6"/>
<path d="M107.3 43.7H119.3M113.3 37.7V49.7M109.0 39.4L117.6 48.0M109.0 48.0L117.6 39.4" stroke="#0000ff" stroke-width="1.6"/>
<path d="M107.4 42.9H119.4M113.4 36.9V48.9M109.1 38.6L117.7 47.2M109.1 47.2L117.7 38.6" stroke="#0000ff" stroke-width="1.6"/>
<path d="M107.4 42.1H119.4M113.4 36.1V48.1M109.1 37.8L117.8 46.4M109.1 46.4L117.8 37.8" stroke="#0000ff" stroke-width="1.6"/>
<path d="M107.5 41.3H119.5M113.5 35.3V47.3M109.2 37.0L117.8 45.6M109.2 45.6L117.8 37.0" stroke="#0000ff" stroke-width="1.6"/>
<path d="M107.6 40.5H119.6M113.6 34.5V46.5M109.3 36.2L117.9 44.8M109.3 44.8L117.9 36.2" stroke="#0000ff" stroke-width="1.6"/>
<path d="M107.7 39.7H119.7M113.7 33.7V45.7M109.4 35.4L118.0 44.1M109.4 44.1L118.0 35.4" stroke="#0000ff" stroke-width="1.6"/>
<path d="M107.8 38.9H119.8M113.8 32.9V44.9M109.4 34.6L118.1 43.3M109.4 43.3L118.1 34.6" stroke="#0000ff" stroke-width="1.6"/>
<path d="M107.8 38.1H119.8M113.8 32.1V44.1M109.5 33.8L118.1 42.5M109.5 42.5L118.1 33.8" stroke="#0000ff" stroke-width="1.6"/>
<path d="M107.9 37.3H119.9M113.9 31.3V43.3M109.6 33.0L118.2 41.7M109.6 41.7L118.2 33.0" stroke="#0000ff" stroke-width="1.6"/>
<path d="M108.0 36.5H120.0M114.0 30.5V42.5M109.7 32.2L118.3 40.9M109.7 40.9L118.3 32.2" stroke="#0000ff" stroke-width="1.6"/>
<path d="M108.1 35.7H120.1M114.1 29.7V41.7M109.7 31.4L118.4 40.1M109.7 40.1L118.4 31.4" stroke="#0000ff" stroke-width="1.6"/>
<path d="M108.1 35.0H120.1M114.1 29.0V41.0M109.8 30.6L118.4 39.3M109.8 39.3L118.4 30.6" stroke="#0000ff" stroke-width="1.6"/>
<path d="M108.2 34.2H120.2M114.2 28.2V40.2M109.9 29.8L118.5 38.5M109.9 38.5L118.5 29.8" stroke="#0000ff" stroke-width="1.6"/>
<path d="M108.3 33.4H120.3M114.3 27.4V39.4M110.0 29.0L118.6 37.7M110.0 37.7L118.6 29.0" stroke="#0000ff" stroke-width="1.6"/>
<path d="M108.4 32.6H120.4M114.4 26.6V38.6M110.0 28.2L118.7 36.9M110.0 36.9L118.7 28.2" stroke="#0000ff" stroke-width="1.6"/>
<path d="M108.4 31.8H120.4M114.4 25.8V37.8M110.1 27.4L118.8 36.1M110.1 36.1L118.8 27.4" stroke="#0000ff" stroke-width="1.6"/>
<path d="M108.5 31.0H120.5M114.5 25.0V37.0M110.2 26.7L118.8 35.3M110.2 35.3L118.8 26.7" stroke="#0000ff" stroke-width="1.6"/>
<path d="M108.6 30.2H120.6M114.6 24.2V36.2M110.3 25.9L118.9 34.5M110.3 34.5L118.9 25.9" stroke="#0000ff" stroke-width="1.6"/>
<path d="M108.7 29.4H120.7M114.7 23.4V35.4M110.3 25.1L119.0 33.7M110.3 33.7L119.0 25.1" stroke="#0000ff" stroke-width="1.6"/>
<path d="M108.8 28.6H120.8M114.8 22.6V34.6M110.4 24.3L119.1 32.9M110.4 32.9L119.1 24.3" stroke="#0000ff" stroke-width="1.6"/>
<path d="M108.8 27.8H120.8M114.8 21.8V33.8M110.5 23.5L119.2 32.1M110.5 32.1L119.2 23.5" stroke="#0000ff" stroke-width="1.6"/>
<path d="M108.9 27.0H120.9M114.9 21.0V33.0M110.6 22.7L119.2 31.3M110.6 31.3L119.2 22.7" stroke="#0000ff" stroke-width="1.6"/>
<path d="M109.0 26.2H121.0M115.0 20.2V32.2M110.7 21.9L119.3 30.5M110.7 30.5L119.3 21.9" stroke="#0000ff" stroke-width="1.6"/>
<path d="M109.1 25.4H121.1M115.1 19.4V31.4M110.8 21.1L119.4 29.7M110.8 29.7L119.4 21.1" stroke="#0000ff" stroke-width="1.6"/>
<path d="M109.2 24.6H121.2M115.2 18.6V30.6M110.9 20.3L119.5 28.9M110.9 28.9L119.5 20.3" stroke="#0000ff" stroke-width="1.6"/>
<path d="M109.3 23.8H121.3M115.3 17.8V29.8M110.9 19.5L119.6 28.1M110.9 28.1L119.6 19.5" stroke="#0000ff" stroke-width="1.6"/>
<path d="M109.3 23.0H121.3M115.3 17.0V29.0M111.0 18.7L119.7 27.3M111.0 27.3L119.7 18.7" stroke="#0000ff" stroke-width="1.6"/>
<path d="M109.4 22.2H121.4M115.4 16.2V28.2M111.1 17.9L119.7 26.5M111.1 26.5L119.7 17.9" stroke="#0000ff" stroke-width="1.6"/>
<path d="M109.5 21.4H121.5M115.5 15.4V27.4M111.2 17.1L119.8 25.7M111.2 25.7L119.8 17.1" stroke="#0000ff" stroke-width="1.6"/>
<path d="M109.6 20.6H121.6M115.6 14.6V26.6M111.3 16.3L119.9 24.9M111.3 24.9L119.9 16.3" stroke="#0000ff" stroke-width="1.6"/>
<path d="M109.7 19.8H121.7M115.7 13.8V25.8M111.4 15.5L120.0 24.2M111.4 24.2L120.0 15.5" stroke="#0000ff" stroke-width="1.6"/>
<path d="M109.8 19.0H121.8M115.8 13.0V25.0M111.4 14.7L120.1 23.4M111.4 23.4L120.1 14.7" stroke="#0000ff" stroke-width="1.6"/>
<path d="M109.8 18.2H121.8M115.8 12.2V24.2M111.5 13.9L120.2 22.6M111.5 22.6L120.2 13.9" stroke="#0000ff" stroke-width="1.6"/>
<path d="M109.9 17.4H121.9M115.9 11.4V23.4M111.6 13.1L120.2 21.8M111.6 21.8L120.2 13.1" stroke="#0000ff" stroke-width="1.6"/>
<path d="M110.0 16.6H122.0M116.0 10.6V22.6M111.7 12.3L120.3 21.0M111.7 21.0L120.3 12.3" stroke="#0000ff" stroke-width="1.6"/>
<path d="M110.1 15.9H122.1M116.1 9.9V21.9M111.8 11.5L120.4 20.2M111.8 20.2L120.4 11.5" stroke="#0000ff" stroke-width="1.6"/>
<path d="M110.2 15.1H122.2M116.2 9.1V21.1M111.9 10.7L120.5 19.4M111.9 19.4L120.5 10.7" stroke="#0000ff" stroke-width="1.6"/>
<path d="M110.3 14.3H122.3M116.3 8.3V20.3M111.9 9.9L120.6 18.6M111.9 18.6L120.6 9.9" stroke="#0000ff" stroke-width="1.6"/>
<path d="M110.4 13.5H122.4M116.4 7.5V19.5M112.0 9.1L120.7 17.8M112.0 17.8L120.7 9.1" stroke="#0000ff" stroke-width="1.6"/>
<polyline points="593.5,446.5 572.0,437.0 560.3,429.8 543.2,422.0 520.3,412.3 486.9,397.4 446.6,379.8 400.8,361.6 352.5,341.0 298.0,317.0 247.0,296.4 203.9,278.6 168.6,263.8 152.2,255.7 137.6,250.4 125.8,245.4 115.3,241.1 106.0,237.6 99.8,235.2 90.0,231.0 72.0,224.0 71.0,200.0 71.0,179.0 70.5,150.0 69.8,120.0 69.8,60.0 69.5,33.0 69.0,20.0 68.5,11.0" fill="none" stroke="#000000" stroke-width="1.1" stroke-linejoin="round"/>
<path d="M575.7 438.5H586.3M581.0 433.2V443.8" stroke="#000000" stroke-width="1.5"/>
<path d="M566.7 434.2H577.3M572.0 428.9V439.5" stroke="#000000" stroke-width="1.5"/>
<path d="M555.0 429.8H565.6M560.3 424.5V435.1" stroke="#000000" stroke-width="1.5"/>
<path d="M537.9 422.0H548.5M543.2 416.7V427.3" stroke="#000000" stroke-width="1.5"/>
<path d="M515.0 412.3H525.6M520.3 407.0V417.6" stroke="#000000" stroke-width="1.5"/>
<path d="M481.6 397.4H492.2M486.9 392.1V402.7" stroke="#000000" stroke-width="1.5"/>
<path d="M441.3 379.8H451.9M446.6 374.5V385.1" stroke="#000000" stroke-width="1.5"/>
<path d="M395.5 361.6H406.1M400.8 356.3V366.9" stroke="#000000" stroke-width="1.5"/>
<path d="M347.2 341.0H357.8M352.5 335.7V346.3" stroke="#000000" stroke-width="1.5"/>
<path d="M292.7 317.0H303.3M298.0 311.7V322.3" stroke="#000000" stroke-width="1.5"/>
<path d="M241.7 296.4H252.3M247.0 291.1V301.7" stroke="#000000" stroke-width="1.5"/>
<path d="M198.6 278.6H209.2M203.9 273.3V283.9" stroke="#000000" stroke-width="1.5"/>
<path d="M163.3 263.8H173.9M168.6 258.5V269.1" stroke="#000000" stroke-width="1.5"/>
<path d="M132.3 250.4H142.9M137.6 245.1V255.7" stroke="#000000" stroke-width="1.5"/>
<path d="M120.5 245.4H131.1M125.8 240.1V250.7" stroke="#000000" stroke-width="1.5"/>
<path d="M110.0 241.1H120.6M115.3 235.8V246.4" stroke="#000000" stroke-width="1.5"/>
<path d="M100.7 237.6H111.3M106.0 232.3V242.9" stroke="#000000" stroke-width="1.5"/>
<path d="M94.5 235.2H105.1M99.8 229.9V240.5" stroke="#000000" stroke-width="1.5"/>
<path d="M86.7 232.0H97.3M92.0 226.7V237.3" stroke="#000000" stroke-width="1.5"/>
<path d="M582.7 442.0H593.3M588.0 436.7V447.3" stroke="#000000" stroke-width="1.5"/>
<path d="M586.7 445.0H597.3M592.0 439.7V450.3" stroke="#000000" stroke-width="1.5"/>
<path d="M62 10H73.8V19.5H75.9V33.4H75.9V143H77.2V190H65.4V143H64V33.4H62Z" fill="#000"/>
<path d="M68.6 3V11" stroke="#000" stroke-width="1.2"/>
<path d="M587.5 440L593.5 446.5" stroke="#1c0c2c" stroke-width="11" stroke-linecap="round"/>
<circle cx="593.5" cy="446.5" r="5.0" fill="none" stroke="#8a1020" stroke-width="1.3"/>
<path d="M585.0 443.5H595.0M590.0 438.5V448.5" stroke="#000" stroke-width="1.5"/>
<path d="M583.0 441.5H593.0M588.0 436.5V446.5M584.4 437.9L591.6 445.1M584.4 445.1L591.6 437.9" stroke="#1a1aa0" stroke-width="1.4"/>
</g>
<rect x="61.9" y="6.6" width="578.6" height="456.4" fill="none" stroke="#1e1e1e" stroke-width="1.3"/>
<path d="M62.0 462.5V457.0M62.0 6.5V12.0" stroke="#1e1e1e" stroke-width="1"/>
<path d="M158.3 462.5V457.0M158.3 6.5V12.0" stroke="#1e1e1e" stroke-width="1"/>
<path d="M254.7 462.5V457.0M254.7 6.5V12.0" stroke="#1e1e1e" stroke-width="1"/>
<path d="M351.0 462.5V457.0M351.0 6.5V12.0" stroke="#1e1e1e" stroke-width="1"/>
<path d="M447.3 462.5V457.0M447.3 6.5V12.0" stroke="#1e1e1e" stroke-width="1"/>
<path d="M543.7 462.5V457.0M543.7 6.5V12.0" stroke="#1e1e1e" stroke-width="1"/>
<path d="M640.0 462.5V457.0M640.0 6.5V12.0" stroke="#1e1e1e" stroke-width="1"/>
<path d="M62.0 462.5H67.5M640.0 462.5H634.5" stroke="#1e1e1e" stroke-width="1"/>
<path d="M62.0 386.5H67.5M640.0 386.5H634.5" stroke="#1e1e1e" stroke-width="1"/>
<path d="M62.0 310.5H67.5M640.0 310.5H634.5" stroke="#1e1e1e" stroke-width="1"/>
<path d="M62.0 234.5H67.5M640.0 234.5H634.5" stroke="#1e1e1e" stroke-width="1"/>
<path d="M62.0 158.5H67.5M640.0 158.5H634.5" stroke="#1e1e1e" stroke-width="1"/>
<path d="M62.0 82.5H67.5M640.0 82.5H634.5" stroke="#1e1e1e" stroke-width="1"/>
<path d="M62.0 6.5H67.5M640.0 6.5H634.5" stroke="#1e1e1e" stroke-width="1"/>
<text x="62.0" y="489.5" text-anchor="middle" class="tl">0</text>
<text x="158.3" y="489.5" text-anchor="middle" class="tl">1</text>
<text x="254.7" y="489.5" text-anchor="middle" class="tl">2</text>
<text x="351.0" y="489.5" text-anchor="middle" class="tl">3</text>
<text x="447.3" y="489.5" text-anchor="middle" class="tl">4</text>
<text x="543.7" y="489.5" text-anchor="middle" class="tl">5</text>
<text x="640.0" y="489.5" text-anchor="middle" class="tl">6</text>
<text x="50.5" y="470.8" text-anchor="end" class="tl">0</text>
<text x="50.5" y="394.8" text-anchor="end" class="tl">2</text>
<text x="50.5" y="318.8" text-anchor="end" class="tl">4</text>
<text x="50.5" y="242.8" text-anchor="end" class="tl">6</text>
<text x="50.5" y="166.8" text-anchor="end" class="tl">8</text>
<text x="50.5" y="90.8" text-anchor="end" class="tl">10</text>
<text x="50.5" y="14.8" text-anchor="end" class="tl">12</text>
<text x="351.5" y="519.5" text-anchor="middle" class="al">S</text>
<text transform="translate(15.2,235.4) rotate(-90)" x="0" y="0" text-anchor="middle" class="al">I</text>
<rect x="157.2" y="153.0" width="91.6" height="51.0" rx="3" fill="#fcfcfc" stroke="#bcbcbc" stroke-width="1.5"/><text x="166.0" y="175.0" class="dl">X</text><text x="180.5" y="175.0" class="dv">0.967207</text><text x="166.0" y="191.8" class="dl">Y</text><text x="180.5" y="191.8" class="dv">6.73898</text>
<rect x="57.9" y="181.1" width="92.7" height="50.4" rx="3" fill="#fcfcfc" stroke="#bcbcbc" stroke-width="1.5"/><text x="66.7" y="203.1" class="dl">X</text><text x="81.2" y="203.1" class="dv">0.944207</text><text x="66.7" y="219.89999999999998" class="dl">Y</text><text x="81.2" y="219.89999999999998" class="dv">6.0167</text>
<rect x="57.5" y="259.4" width="92.3" height="50.8" rx="3" fill="#fcfcfc" stroke="#bcbcbc" stroke-width="1.5"/><text x="66.3" y="281.4" class="dl">X</text><text x="80.8" y="281.4" class="dv">0.936785</text><text x="66.3" y="298.2" class="dl">Y</text><text x="80.8" y="298.2" class="dv">5.4284</text>
<circle cx="155.2" cy="206.2" r="3.2" fill="#111"/>
<circle cx="152.9" cy="234" r="3.2" fill="#111"/>
<circle cx="152.2" cy="256.3" r="3.2" fill="#111"/>
<rect x="467.5" y="21.5" width="158" height="90" fill="#fff" stroke="#2a2a2a" stroke-width="1.1"/>
<path d="M474 33.8H527" stroke="#ffff00" stroke-width="10.5"/>
<path d="M473 56.0H527.5" stroke="#b83838" stroke-width="1.3"/><circle cx="499.5" cy="56.0" r="5" fill="none" stroke="#c03838" stroke-width="1.2"/>
<path d="M473 77.6H527.5" stroke="#2a2a98" stroke-width="1.3"/><path d="M494.5 77.6H504.5M499.5 72.6V82.6M495.9 74.0L503.1 81.2M495.9 81.2L503.1 74.0" stroke="#1a1ae0" stroke-width="1.4"/>
<path d="M473 99.8H527.5" stroke="#111" stroke-width="1.3"/><path d="M494.3 99.8H504.7M499.5 94.6V105.0" stroke="#000000" stroke-width="1.5"/>
<text x="530" y="41" class="lg">m=0.0005</text>
<text x="530" y="62" class="lg">m=0.9</text>
<text x="530" y="84.3" class="lg">m=0.5</text>
<text x="530" y="106" class="lg">m=0.000005</text>
</svg>
</body></html>
